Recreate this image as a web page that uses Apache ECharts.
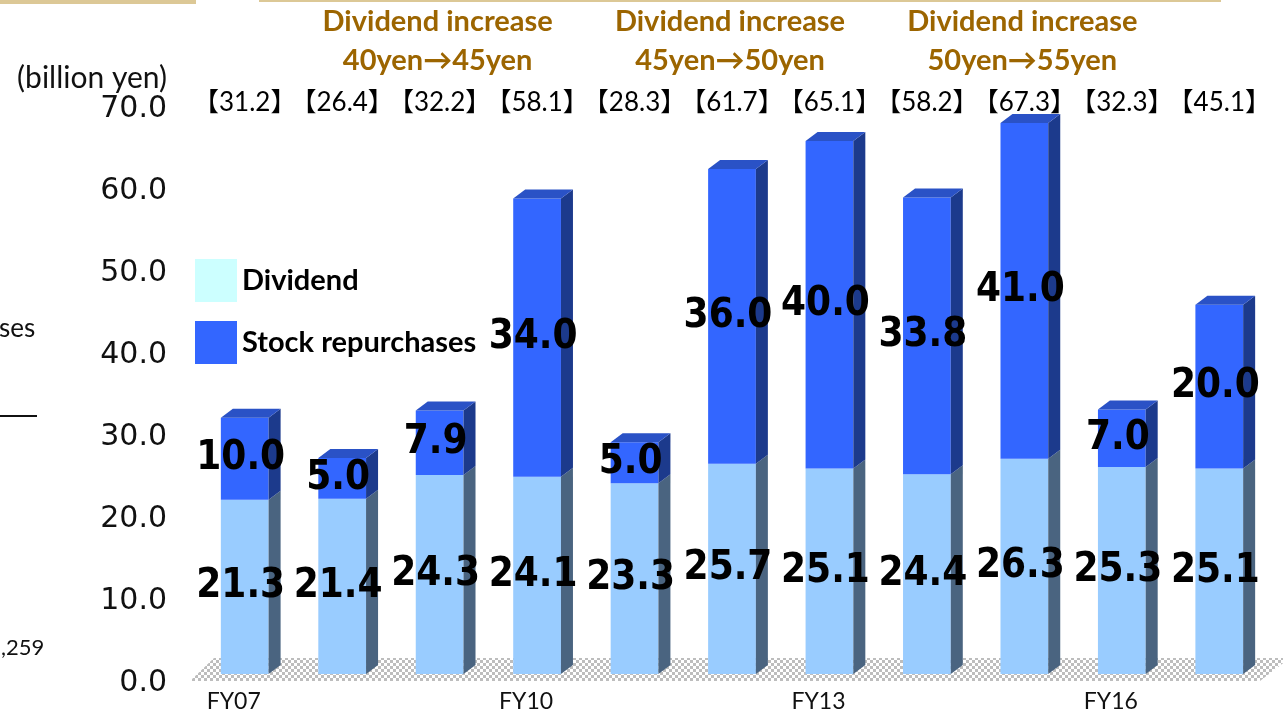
<!DOCTYPE html>
<html>
<head>
<meta charset="utf-8">
<script src="https://cdn.jsdelivr.net/npm/echarts@6/dist/echarts.min.js"></script>
<style>
  html, body { margin: 0; padding: 0; background: #fff; }
  #main { width: 1283px; height: 713px; }
</style>
</head>
<body>
<div id="main"></div>
<script>
var categories = ['FY07', 'FY08', 'FY09', 'FY10', 'FY11', 'FY12', 'FY13', 'FY14', 'FY15', 'FY16', 'FY17'];
var dividend = [21.3, 21.4, 24.3, 24.1, 23.3, 25.7, 25.1, 24.4, 26.3, 25.3, 25.1];
var repurchase = [10.0, 5.0, 7.9, 34.0, 5.0, 36.0, 40.0, 33.8, 41.0, 7.0, 20.0];
var totals = ['31.2', '26.4', '32.2', '58.1', '28.3', '61.7', '65.1', '58.2', '67.3', '32.3', '45.1'];
var increaseAt = [2, 5, 8];
var increaseText = ['Dividend increase\n40yen\u219245yen', 'Dividend increase\n45yen\u219250yen', 'Dividend increase\n50yen\u219255yen'];

var yMax = 70;
var valueFont = 'bold 40px "DejaVu Sans Condensed", "DejaVu Sans", sans-serif';

// checkered floor
var pat = document.createElement('canvas');
pat.width = 6; pat.height = 6;
var pc = pat.getContext('2d');
pc.fillStyle = '#ffffff'; pc.fillRect(0, 0, 6, 6);
pc.fillStyle = '#bdbdbd'; pc.fillRect(0, 0, 3, 3); pc.fillRect(3, 3, 3, 3);

function bar3d(front, side, top, withTop) {
	return function (params, api) {
		var i = api.value(0), lo = api.value(1), hi = api.value(2);
		var p0 = api.coord([i, lo]);
		var p1 = api.coord([i, hi]);
		var band = api.size([1, 0])[0];
		var w = band * 0.49;
		var x0 = p0[0] - w / 2, x1 = x0 + w;
		var dx = 12, dy = 9;
		var kids = [
			{ type: 'rect', shape: { x: x0, y: p1[1], width: w, height: p0[1] - p1[1] }, style: { fill: front } },
			{ type: 'polygon', shape: { points: [[x1, p1[1]], [x1 + dx, p1[1] - dy], [x1 + dx, p0[1] - dy], [x1, p0[1]]] }, style: { fill: side } }
		];
		if (withTop) {
			kids.push({ type: 'polygon', shape: { points: [[x0, p1[1]], [x0 + dx, p1[1] - dy], [x1 + dx, p1[1] - dy], [x1, p1[1]]] }, style: { fill: top } });
		}
		kids.push({
			type: 'text', z2: 10,
			style: { text: (hi - lo).toFixed(1), x: p0[0] - 4, y: (p0[1] + p1[1]) / 2, textAlign: 'center', textVerticalAlign: 'middle', font: valueFont, fill: '#000' }
		});
		return { type: 'group', children: kids };
	};
}

var divData = categories.map(function (c, i) { return [i, 0, dividend[i]]; });
var repData = categories.map(function (c, i) { return [i, dividend[i], dividend[i] + repurchase[i]]; });

var myChart = echarts.init(document.getElementById('main'));
var option = {
	animation: false,
	grid: [
		{ left: 196, right: 15, top: 101, bottom: 38 },
		{ left: 196, right: 15, top: 109, bottom: 30 }
	],
	legend: {
		data: ['Dividend', 'Stock repurchases'],
		orient: 'vertical', left: 190, top: 254,
		itemWidth: 42, itemHeight: 43, itemGap: 19,
		icon: 'rect',
		textStyle: { fontFamily: 'Lato', fontWeight: 'bold', fontSize: 29, color: '#000' }
	},
	xAxis: [
		{
			type: 'category', data: categories,
			axisLine: { show: false }, axisTick: { show: false },
			axisLabel: { interval: 2, margin: 16, fontFamily: 'Lato', fontSize: 23, color: '#111', padding: [0, 22, 0, 0] }
		},
		{ type: 'category', data: categories, gridIndex: 1, show: false }
	],
	yAxis: [
		{
			type: 'value', min: 0, max: yMax, interval: 10,
			splitLine: { show: false }, axisLine: { show: false }, axisTick: { show: false },
			axisLabel: { show: false }
		},
		{
			type: 'value', min: 0, max: yMax, interval: 10, gridIndex: 1,
			name: '(billion yen)', nameLocation: 'end', nameGap: 31,
			nameTextStyle: { fontFamily: 'Lato', fontSize: 30, color: '#111', align: 'right', verticalAlign: 'middle', padding: [0, 29, 0, 0] },
			splitLine: { show: false }, axisLine: { show: false }, axisTick: { show: false },
			axisLabel: {
				margin: 29, fontFamily: 'DejaVu Sans', fontSize: 30, color: '#111',
				formatter: function (v) { return v.toFixed(1); }
			}
		}
	],
	graphic: [
		{ type: 'rect', shape: { x: 0, y: 0, width: 196, height: 4 }, style: { fill: '#dcc896' } },
		{ type: 'rect', shape: { x: 259, y: 0, width: 962, height: 2 }, style: { fill: '#dcc896' } },
		{ type: 'polygon', z: -1, shape: { points: [[190, 681], [214, 658], [1290, 658], [1260, 681]] }, style: { fill: { image: pat, repeat: 'repeat' } } },
		{ type: 'text', style: { text: 'ses', x: -1, y: 329, textVerticalAlign: 'middle', font: '26px Lato', fill: '#111' } },
		{ type: 'rect', shape: { x: 0, y: 415, width: 37, height: 2 }, style: { fill: '#111' } },
		{ type: 'text', style: { text: ',259', x: 1, y: 648, textVerticalAlign: 'middle', font: '22px Lato', fill: '#111' } }
	],
	series: [
		{
			name: 'Dividend', type: 'custom', data: divData,
			itemStyle: { color: '#ccffff' },
			renderItem: bar3d('#99ccff', '#4a6480', '#7fa8d0', false)
		},
		{
			name: 'Stock repurchases', type: 'custom', data: repData,
			itemStyle: { color: '#3366ff' },
			renderItem: bar3d('#3366ff', '#1c3a8c', '#2a52c6', true)
		},
		{
			name: 'total', type: 'custom', data: totals.map(function (t, i) { return [i]; }),
			renderItem: function (params, api) {
				var i = api.value(0);
				var p = api.coord([i, yMax]);
				return { type: 'text', style: { text: '\u3010' + totals[i] + '\u3011', x: p[0], y: p[1] + 2, textAlign: 'center', textVerticalAlign: 'middle', font: '26px Lato, "Noto Sans CJK JP"', fill: '#000' } };
			}
		},
		{
			name: 'increase', type: 'custom', data: increaseAt.map(function (c, k) { return [c, k]; }),
			renderItem: function (params, api) {
				var p = api.coord([api.value(0), yMax]);
				return { type: 'text', style: { text: increaseText[api.value(1)], x: p[0] - 2, y: 41, textAlign: 'center', textVerticalAlign: 'middle', font: 'bold 29px Lato', lineHeight: 39, fill: '#9c6500' } };
			}
		}
	]
};
myChart.setOption(option);
</script>
</body>
</html>
